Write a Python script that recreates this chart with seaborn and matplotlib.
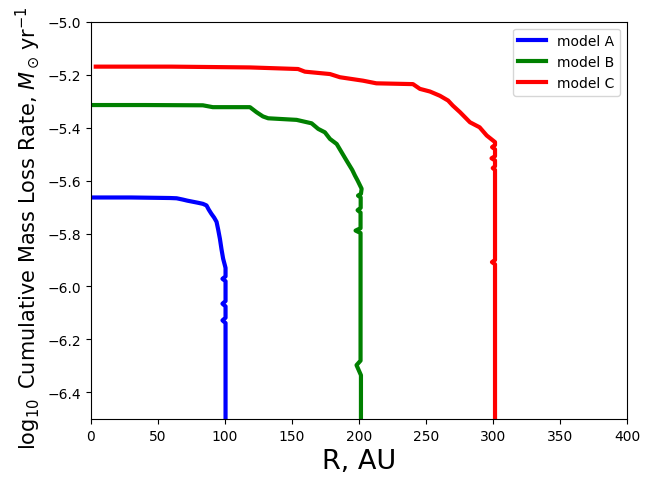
import numpy as np
import pandas as pd
import matplotlib
matplotlib.use("Agg")
import matplotlib.pyplot as plt
import seaborn as sns

# Cumulative mass-loss rate profiles (radius in AU, log10 rate in Msun/yr)
r_a = [0, 30, 59, 64, 68.7, 72, 76, 80, 83.6, 86.3, 88, 90, 92, 93.8, 95,
       96.3, 97.5, 98.7, 100, 100.5, 100.5, 98.2, 100.5, 100.5, 98.2, 100.5,
       100.5, 98.2, 100.5, 100.5]
m_a = [-5.664, -5.664, -5.666, -5.667, -5.672, -5.676, -5.680, -5.684, -5.688,
       -5.694, -5.710, -5.726, -5.740, -5.756, -5.785, -5.820, -5.860, -5.895,
       -5.920, -5.930, -5.962, -5.971, -5.980, -6.055, -6.065, -6.075, -6.118,
       -6.128, -6.138, -7.000]

r_b = [0, 40, 83.6, 91, 118.7, 123.6, 128.4, 132.3, 153.5, 164.7, 169.6,
       174.6, 178.4, 183.4, 190.8, 195, 197, 199, 202, 201.5, 199.3, 201.3,
       201.3, 199.0, 201.2, 201.2, 197.5, 201.2, 201.2, 198.2, 201.5, 201.5]
m_b = [-5.315, -5.315, -5.316, -5.323, -5.323, -5.342, -5.358, -5.365, -5.371,
       -5.384, -5.405, -5.418, -5.443, -5.462, -5.525, -5.560, -5.581, -5.600,
       -5.631, -5.650, -5.657, -5.664, -5.703, -5.712, -5.721, -5.780, -5.789,
       -5.798, -6.280, -6.297, -6.335, -7.000]

r_c = [3.7, 60, 118.7, 154.6, 159.7, 178.4, 185.8, 203, 213, 240.3, 245.5,
       253, 260.4, 266.5, 270, 275.4, 282.8, 290, 295.3, 301.5, 301.5, 299.3,
       301.5, 301.5, 298.9, 301.5, 301.5, 299.8, 301.5, 301.5, 299.2, 301.5,
       301.5]
m_c = [-5.170, -5.170, -5.173, -5.179, -5.189, -5.198, -5.210, -5.223, -5.233,
       -5.236, -5.254, -5.264, -5.280, -5.298, -5.317, -5.342, -5.380, -5.399,
       -5.430, -5.455, -5.466, -5.474, -5.482, -5.508, -5.516, -5.524, -5.546,
       -5.553, -5.560, -5.900, -5.908, -5.916, -7.000]

models = ["model A", "model B", "model C"]
colors = ["blue", "green", "red"]

df = pd.concat([
    pd.DataFrame({"R": r, "logM": m, "model": name})
    for r, m, name in zip([r_a, r_b, r_c], [m_a, m_b, m_c], models)
], ignore_index=True)

fig, ax = plt.subplots(figsize=(6.58, 4.81), dpi=100)
fig.subplots_adjust(left=0.138, right=0.953, bottom=0.127, top=0.953)

sns.lineplot(data=df, x="R", y="logM", hue="model", palette=colors,
             sort=False, estimator=None, linewidth=3, ax=ax)

ax.set_xlim(0, 400)
ax.set_ylim(-6.5, -5.0)
ax.set_xticks(np.arange(0, 401, 50))
ax.set_yticks(np.arange(-6.4, -4.99, 0.2))
ax.set_xlabel("R, AU", fontsize=19.5)
ax.set_ylabel(r"$\log_{10}$ Cumulative Mass Loss Rate, $M_\odot\,\mathrm{yr}^{-1}$",
              fontsize=15)
ax.yaxis.label.set_y(0.483)
sns.move_legend(ax, "upper right", title=None)
for line in ax.get_legend().get_lines():
    line.set_linewidth(3)

fig.savefig("out.png", dpi=100)
